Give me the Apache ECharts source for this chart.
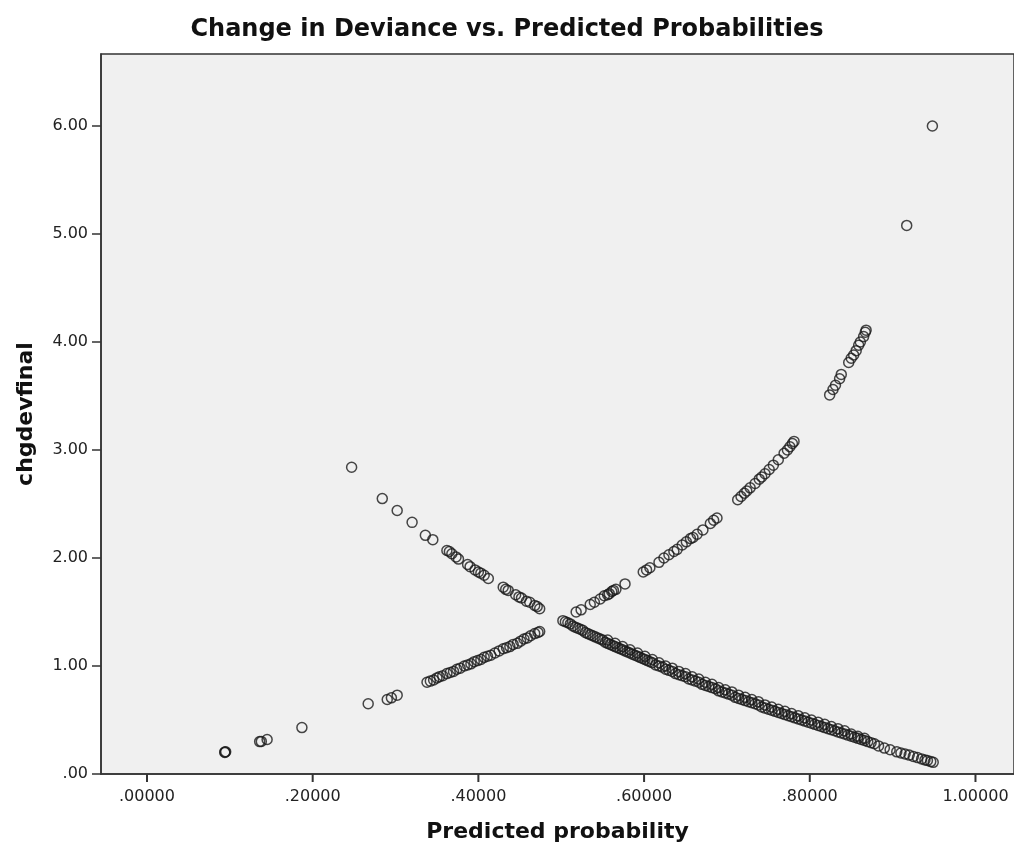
<!DOCTYPE html>
<html>
<head>
<meta charset="utf-8">
<script src="https://cdn.jsdelivr.net/npm/echarts@6/dist/echarts.min.js"></script>
<style>
html,body{margin:0;padding:0;background:#fff;}
#chart{width:1014px;height:851px;}
</style>
</head>
<body>
<div id="chart"></div>
<script>
// Tick values
const xTicks = [0, 0.2, 0.4, 0.6, 0.8, 1.0];
const yTicks = [0, 1, 2, 3, 4, 5, 6];

// Cases where deviance rises with predicted probability
const probRising = [
  0.094, 0.095, 0.094, 0.136, 0.138, 0.145, 0.187, 0.267, 0.290, 0.295, 0.302,
  0.338, 0.342, 0.346, 0.350, 0.353, 0.357, 0.362, 0.366, 0.370, 0.374, 0.378,
  0.383, 0.387, 0.391, 0.395, 0.399, 0.403, 0.407, 0.411, 0.415, 0.420, 0.425,
  0.430, 0.434, 0.438, 0.442, 0.447, 0.451, 0.455, 0.459, 0.463, 0.468, 0.472, 0.474,
  0.518, 0.524, 0.535, 0.540, 0.547, 0.552, 0.556, 0.558, 0.561, 0.563, 0.566, 0.577,
  0.599, 0.603, 0.607, 0.618, 0.624, 0.630, 0.636, 0.640, 0.646, 0.651, 0.656, 0.659,
  0.664, 0.671, 0.680, 0.684, 0.688,
  0.713, 0.717, 0.721, 0.724, 0.728, 0.734, 0.739, 0.742, 0.746, 0.751, 0.756, 0.762,
  0.769, 0.773, 0.776, 0.779, 0.781,
  0.824, 0.828, 0.831, 0.836, 0.838, 0.847, 0.850, 0.853, 0.856, 0.859, 0.861, 0.865,
  0.867, 0.868, 0.917, 0.948
];
const devRising = [
  0.204, 0.206, 0.200, 0.300, 0.302, 0.320, 0.430, 0.650, 0.690, 0.705, 0.730,
  0.85, 0.86, 0.87, 0.89, 0.90, 0.91, 0.93, 0.94, 0.95, 0.97, 0.98,
  1.00, 1.01, 1.02, 1.04, 1.05, 1.06, 1.08, 1.09, 1.10, 1.12, 1.14,
  1.16, 1.17, 1.18, 1.20, 1.21, 1.23, 1.25, 1.26, 1.28, 1.30, 1.31, 1.32,
  1.50, 1.52, 1.57, 1.59, 1.62, 1.65, 1.66, 1.67, 1.69, 1.70, 1.71, 1.76,
  1.87, 1.89, 1.91, 1.96, 2.00, 2.03, 2.06, 2.08, 2.12, 2.15, 2.18, 2.19,
  2.22, 2.26, 2.32, 2.35, 2.37,
  2.54, 2.57, 2.60, 2.62, 2.65, 2.69, 2.73, 2.75, 2.78, 2.82, 2.86, 2.91,
  2.97, 3.00, 3.03, 3.06, 3.08,
  3.51, 3.56, 3.60, 3.66, 3.70, 3.81, 3.85, 3.88, 3.92, 3.97, 4.00, 4.05,
  4.09, 4.11, 5.08, 6.00
];

// Cases where deviance falls with predicted probability
const probFalling = [
  0.247, 0.284, 0.302, 0.320, 0.336, 0.345, 0.362, 0.365, 0.368, 0.373, 0.376,
  0.387, 0.390, 0.396, 0.400, 0.403, 0.407, 0.412, 0.430, 0.433, 0.436, 0.445,
  0.449, 0.452, 0.458, 0.462, 0.468, 0.471, 0.474,
  0.502, 0.505, 0.508, 0.511, 0.514, 0.517, 0.520, 0.523, 0.526, 0.529, 0.532,
  0.535, 0.538, 0.541, 0.544, 0.547, 0.550, 0.553, 0.556, 0.559, 0.562, 0.565,
  0.568, 0.571, 0.574, 0.577, 0.580, 0.583, 0.586, 0.589, 0.592, 0.595, 0.598,
  0.601, 0.604, 0.607, 0.610, 0.614, 0.618, 0.622, 0.626, 0.630, 0.634, 0.638,
  0.642, 0.646, 0.650, 0.654, 0.658, 0.662, 0.666, 0.670, 0.674, 0.678, 0.682,
  0.686, 0.690, 0.694, 0.698, 0.702, 0.706, 0.710, 0.714, 0.718, 0.722, 0.726,
  0.730, 0.734, 0.738, 0.742, 0.746, 0.750, 0.754, 0.758, 0.762, 0.766, 0.770,
  0.774, 0.778, 0.782, 0.786, 0.790, 0.794, 0.798, 0.802, 0.806, 0.810, 0.814,
  0.818, 0.822, 0.826, 0.830, 0.834, 0.838, 0.842, 0.846, 0.850, 0.854, 0.858,
  0.862, 0.866, 0.870, 0.874, 0.878, 0.883, 0.890, 0.897, 0.905, 0.910, 0.915,
  0.920, 0.925, 0.930, 0.935, 0.939, 0.942, 0.946, 0.949,
  0.556, 0.565, 0.574, 0.583, 0.592, 0.601, 0.610, 0.618, 0.626, 0.634, 0.642,
  0.650, 0.658, 0.666, 0.674, 0.682, 0.690, 0.698, 0.706, 0.714, 0.722, 0.730,
  0.738, 0.746, 0.754, 0.762, 0.770, 0.778, 0.786, 0.794, 0.802, 0.810, 0.818,
  0.826, 0.834, 0.842, 0.850, 0.858, 0.866
];
const devFalling = [
  2.84, 2.55, 2.44, 2.33, 2.21, 2.17, 2.07, 2.06, 2.04, 2.01, 1.99,
  1.94, 1.92, 1.89, 1.87, 1.86, 1.84, 1.81, 1.73, 1.71, 1.70, 1.66,
  1.64, 1.63, 1.60, 1.59, 1.56, 1.55, 1.53,
  1.42, 1.41, 1.40, 1.39, 1.37, 1.36, 1.35, 1.34, 1.33, 1.31, 1.30,
  1.29, 1.28, 1.27, 1.26, 1.25, 1.24, 1.22, 1.21, 1.20, 1.19, 1.18,
  1.17, 1.16, 1.15, 1.14, 1.13, 1.12, 1.11, 1.10, 1.09, 1.08, 1.07,
  1.06, 1.05, 1.04, 1.03, 1.01, 1.00, 0.99, 0.97, 0.96, 0.95, 0.93,
  0.92, 0.91, 0.90, 0.88, 0.87, 0.86, 0.85, 0.83, 0.82, 0.81, 0.80,
  0.79, 0.77, 0.76, 0.75, 0.74, 0.73, 0.71, 0.70, 0.69, 0.68, 0.67,
  0.66, 0.65, 0.64, 0.62, 0.61, 0.60, 0.59, 0.58, 0.57, 0.56, 0.55,
  0.54, 0.53, 0.52, 0.51, 0.50, 0.49, 0.48, 0.47, 0.46, 0.45, 0.44,
  0.43, 0.42, 0.41, 0.40, 0.39, 0.38, 0.37, 0.36, 0.35, 0.34, 0.33,
  0.32, 0.31, 0.30, 0.29, 0.28, 0.26, 0.24, 0.225, 0.205, 0.195, 0.185,
  0.175, 0.163, 0.152, 0.14, 0.13, 0.125, 0.115, 0.108,
  1.24, 1.21, 1.18, 1.15, 1.12, 1.09, 1.06, 1.03, 1.00, 0.98, 0.95,
  0.93, 0.90, 0.88, 0.85, 0.83, 0.80, 0.78, 0.76, 0.73, 0.71, 0.69,
  0.67, 0.64, 0.62, 0.60, 0.58, 0.56, 0.54, 0.52, 0.50, 0.48, 0.46,
  0.44, 0.42, 0.40, 0.37, 0.35, 0.33
];

const pair = (xs, ys) => xs.map((x, i) => [x, ys[i]]);

const chart = echarts.init(document.getElementById('chart'), null, {renderer: 'canvas'});
const markerStyle = {
  color: 'rgba(0,0,0,0)',
  borderColor: '#1a1a1a',
  borderWidth: 1.5
};
const fmtX = v => {
  const s = v.toFixed(5);
  return s.startsWith('0') ? s.slice(1) : s;
};
const fmtY = v => {
  const s = v.toFixed(2);
  return s.startsWith('0') ? s.slice(1) : s;
};
chart.setOption({
  animation: false,
  backgroundColor: '#ffffff',
  textStyle: {fontFamily: 'DejaVu Sans'},
  title: {
    text: 'Change in Deviance vs. Predicted Probabilities',
    left: 'center',
    top: 13,
    textStyle: {fontFamily: 'DejaVu Sans', fontWeight: 'bold', fontSize: 24, color: '#111'}
  },
  grid: {
    left: 101, top: 54, right: -5, bottom: 77,
    show: true, backgroundColor: '#f0f0f0', borderColor: '#333', borderWidth: 1.5
  },
  xAxis: {
    type: 'value',
    min: -0.0555, max: 1.0465,
    name: 'Predicted probability',
    nameLocation: 'middle',
    nameGap: 47,
    nameTextStyle: {fontFamily: 'DejaVu Sans', fontWeight: 'bold', fontSize: 22, color: '#111'},
    axisLine: {show: true, onZero: false, lineStyle: {color: '#333', width: 1.5}},
    axisTick: {show: false},
    axisLabel: {customValues: xTicks, formatter: fmtX, fontSize: 16, color: '#222', margin: 15},
    splitLine: {show: false}
  },
  yAxis: {
    type: 'value',
    min: 0, max: 6.667,
    name: 'chgdevfinal',
    nameLocation: 'middle',
    nameGap: 64,
    nameTextStyle: {fontFamily: 'DejaVu Sans', fontWeight: 'bold', fontSize: 22, color: '#111'},
    axisLine: {show: true, onZero: false, lineStyle: {color: '#333', width: 1.5}},
    axisTick: {show: true, customValues: yTicks, length: 9, lineStyle: {color: '#333', width: 1.5}},
    axisLabel: {customValues: yTicks, formatter: fmtY, fontSize: 16, color: '#222', margin: 13},
    splitLine: {show: false}
  },
  series: [
    {type: 'scatter', symbol: 'circle', symbolSize: 10, silent: true,
     data: pair(probRising, devRising), itemStyle: markerStyle},
    {type: 'scatter', symbol: 'circle', symbolSize: 10, silent: true,
     data: pair(probFalling, devFalling), itemStyle: markerStyle},
    {
      // x-axis tick marks drawn through the axis scale
      type: 'custom', silent: true, clip: false, z: 10,
      data: xTicks.map(v => [v, 0]),
      encode: {x: 0, y: 1},
      renderItem: (params, api) => {
        const p = api.coord([api.value(0), api.value(1)]);
        return {
          type: 'line',
          shape: {x1: p[0], y1: p[1], x2: p[0], y2: p[1] + 8},
          style: {stroke: '#333', lineWidth: 2}
        };
      }
    }
  ]
});
</script>
</body>
</html>
